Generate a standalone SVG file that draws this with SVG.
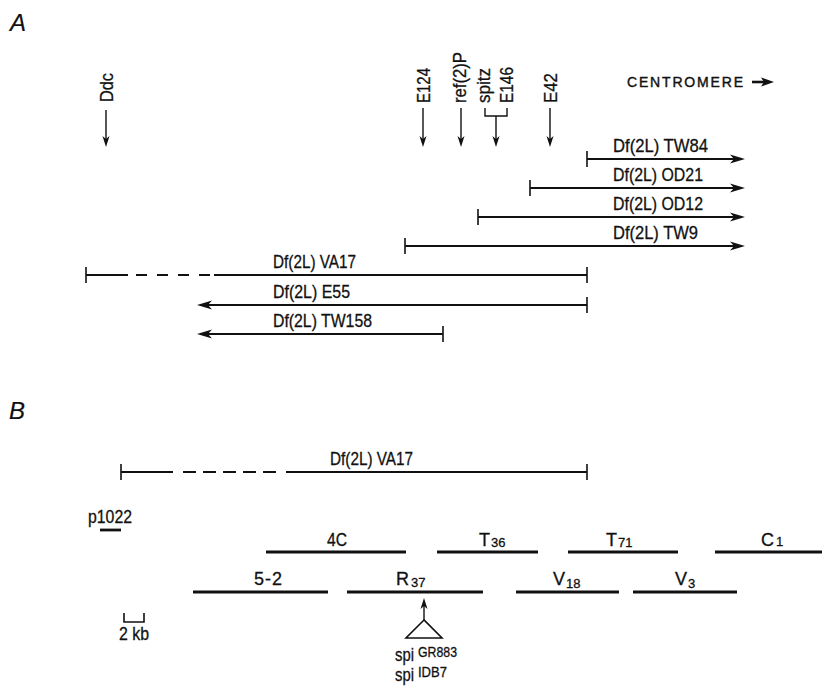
<svg xmlns="http://www.w3.org/2000/svg" width="830" height="690" viewBox="0 0 830 690">
<style>
text{font-family:"Liberation Sans",Arial,sans-serif;fill:#111;stroke:#111;stroke-width:0.3}
.lb{font-size:19px}
.sg{font-size:18px}
.sub{font-size:13px}
.sup{font-size:14px}
.panel{font-size:24px;font-style:italic;stroke-width:0.2}
.del{stroke:#111;stroke-width:2;fill:none}
.tk{stroke:#111;stroke-width:1.6;fill:none}
.seg{stroke:#111;stroke-width:2.8;fill:none}
.ptr{stroke:#111;stroke-width:1.4;fill:none}
</style>
<defs>
<marker id="ah" markerUnits="userSpaceOnUse" markerWidth="20" markerHeight="12" viewBox="-16 -6 20 12" refX="-7" refY="0" orient="auto"><path d="M0,0 L-15,-4.5 L-11,0 L-15,4.5 Z" fill="#111"/></marker>
<marker id="as" markerUnits="userSpaceOnUse" markerWidth="14" markerHeight="10" viewBox="-12 -5 14 10" refX="-6" refY="0" orient="auto"><path d="M0,0 L-11,-3.5 L-8,0 L-11,3.5 Z" fill="#111"/></marker>
</defs>

<text class="panel" x="10" y="31">A</text>
<text class="panel" x="9" y="419">B</text>

<!-- gene pointers in A -->
<g id="ddc">
<text class="lb" transform="translate(113,102) rotate(-90)" textLength="29" lengthAdjust="spacingAndGlyphs">Ddc</text>
</g>
<g id="e124">
<text class="lb" transform="translate(430,103) rotate(-90)" textLength="35" lengthAdjust="spacingAndGlyphs">E124</text>
</g>
<g id="ref2p">
<text class="lb" transform="translate(466,103) rotate(-90)" textLength="51" lengthAdjust="spacingAndGlyphs">ref(2)P</text>
</g>
<g id="spitz">
<text class="lb" transform="translate(490,103) rotate(-90)" textLength="35" lengthAdjust="spacingAndGlyphs">spitz</text>
</g>
<g id="e146">
<text class="lb" transform="translate(513,103) rotate(-90)" textLength="36" lengthAdjust="spacingAndGlyphs">E146</text>
</g>
<g id="e42">
<text class="lb" transform="translate(557,103) rotate(-90)" textLength="30" lengthAdjust="spacingAndGlyphs">E42</text>
</g>
<g id="centromere">
<text x="627" y="87" style="font-size:14px;stroke-width:0.4" textLength="116" lengthAdjust="spacing">CENTROMERE</text>
<line x1="752" y1="82" x2="765" y2="82" stroke="#111" stroke-width="2.6"/>
<path d="M774,82 L761,77.5 L764,82 L761,86.5 Z" fill="#111"/>
</g>

<!-- deletions in A -->
<g id="tw84">
<text class="lb" x="613" y="152" textLength="95" lengthAdjust="spacingAndGlyphs">Df(2L) TW84</text>
<line class="tk" x1="587" y1="151" x2="587" y2="167"/>
</g>
<g id="od21">
<text class="lb" x="613" y="181" textLength="90" lengthAdjust="spacingAndGlyphs">Df(2L) OD21</text>
<line class="tk" x1="530" y1="180" x2="530" y2="196"/>
</g>
<g id="od12">
<text class="lb" x="613" y="210" textLength="90" lengthAdjust="spacingAndGlyphs">Df(2L) OD12</text>
<line class="tk" x1="478" y1="209" x2="478" y2="225"/>
</g>
<g id="tw9">
<text class="lb" x="613" y="239" textLength="85" lengthAdjust="spacingAndGlyphs">Df(2L) TW9</text>
<line class="tk" x1="405" y1="238" x2="405" y2="254"/>
</g>
<g id="va17a">
<text class="lb" x="273" y="268" textLength="83" lengthAdjust="spacingAndGlyphs">Df(2L) VA17</text>
<line class="tk" x1="86" y1="267" x2="86" y2="283"/>
<line class="tk" x1="587" y1="267" x2="587" y2="283"/>
</g>
<g id="e55">
<text class="lb" x="273" y="298" textLength="77" lengthAdjust="spacingAndGlyphs">Df(2L) E55</text>
<line class="tk" x1="587" y1="297" x2="587" y2="313"/>
</g>
<g id="tw158">
<text class="lb" x="273" y="327" textLength="99" lengthAdjust="spacingAndGlyphs">Df(2L) TW158</text>
<line class="tk" x1="443" y1="326" x2="443" y2="342"/>
</g>

<!-- deletion in B -->
<g id="va17b">
<text class="lb" x="330" y="465" textLength="83" lengthAdjust="spacingAndGlyphs">Df(2L) VA17</text>
<line class="tk" x1="121" y1="464" x2="121" y2="480"/>
<line class="tk" x1="587" y1="464" x2="587" y2="480"/>
</g>

<!-- clones in B -->
<g id="p1022">
<text class="sg" x="88" y="523" textLength="44" lengthAdjust="spacingAndGlyphs">p1022</text>
<line class="seg" x1="100" y1="530" x2="121" y2="530"/>
</g>
<g id="c4C">
<text class="sg" x="327" y="546" textLength="20" lengthAdjust="spacingAndGlyphs">4C</text>
<line class="seg" x1="266" y1="552" x2="406" y2="552"/>
</g>
<g id="t36">
<text class="sg" x="479" y="546">T<tspan class="sub" dx="1" dy="1">36</tspan></text>
<line class="seg" x1="437" y1="552" x2="538" y2="552"/>
</g>
<g id="t71">
<text class="sg" x="606" y="546">T<tspan class="sub" dx="1" dy="1">71</tspan></text>
<line class="seg" x1="568" y1="552" x2="678" y2="552"/>
</g>
<g id="c1">
<text class="sg" x="761" y="546">C<tspan class="sub" dx="2" dy="0">1</tspan></text>
<line class="seg" x1="715" y1="552" x2="822" y2="552"/>
</g>
<g id="c52">
<text class="sg" x="254" y="585" textLength="28" lengthAdjust="spacing">5-2</text>
<line class="seg" x1="193" y1="592" x2="328" y2="592"/>
</g>
<g id="r37">
<text class="sg" x="396" y="585">R<tspan class="sub" dx="2" dy="2">37</tspan></text>
<line class="seg" x1="347" y1="592" x2="483" y2="592"/>
</g>
<g id="v18">
<text class="sg" x="553" y="585">V<tspan class="sub" dx="1" dy="3">18</tspan></text>
<line class="seg" x1="516" y1="592" x2="619" y2="592"/>
</g>
<g id="v3">
<text class="sg" x="675" y="585">V<tspan class="sub" dx="1" dy="3">3</tspan></text>
<line class="seg" x1="633" y1="592" x2="737" y2="592"/>
</g>

<g id="insertion">
<polygon points="424,620 406,638 442,638" fill="none" stroke="#111" stroke-width="1.6"/>
<text class="sg" x="395" y="661" textLength="19" lengthAdjust="spacingAndGlyphs">spi</text>
<text class="sup" x="418" y="657" textLength="39" lengthAdjust="spacingAndGlyphs">GR883</text>
<text class="sg" x="395" y="681" textLength="19" lengthAdjust="spacingAndGlyphs">spi</text>
<text class="sup" x="418" y="677" textLength="29" lengthAdjust="spacingAndGlyphs">IDB7</text>
</g>

<g id="scale">
<path d="M124,613 V622 H144 V613" class="tk"/>
<text style="font-size:18px" x="119" y="640" textLength="30" lengthAdjust="spacingAndGlyphs">2 kb</text>
</g>

<!-- connectors -->
<g id="connectors">
<line class="ptr" x1="106" y1="110" x2="106" y2="141" marker-end="url(#as)"/>
<line class="ptr" x1="423" y1="108" x2="423" y2="141" marker-end="url(#as)"/>
<line class="ptr" x1="461" y1="108" x2="461" y2="141" marker-end="url(#as)"/>
<path class="ptr" d="M485,108 V116 H507 V108"/>
<line class="ptr" x1="496" y1="116" x2="496" y2="141" marker-end="url(#as)"/>
<line class="ptr" x1="550" y1="108" x2="550" y2="141" marker-end="url(#as)"/>

<line class="del" x1="587" y1="159" x2="738" y2="159" marker-end="url(#ah)"/>
<line class="del" x1="530" y1="188" x2="738" y2="188" marker-end="url(#ah)"/>
<line class="del" x1="478" y1="217" x2="738" y2="217" marker-end="url(#ah)"/>
<line class="del" x1="405" y1="246" x2="738" y2="246" marker-end="url(#ah)"/>
<line class="del" x1="86" y1="275" x2="128" y2="275"/>
<line class="del" x1="136" y1="275" x2="212" y2="275" stroke-dasharray="11 10"/>
<line class="del" x1="214" y1="275" x2="587" y2="275"/>
<line class="del" x1="587" y1="305" x2="204" y2="305" marker-end="url(#ah)"/>
<line class="del" x1="443" y1="334" x2="204" y2="334" marker-end="url(#ah)"/>

<line class="del" x1="121" y1="472" x2="173" y2="472"/>
<line class="del" x1="183" y1="472" x2="278" y2="472" stroke-dasharray="13 7"/>
<line class="del" x1="286" y1="472" x2="587" y2="472"/>

<line class="ptr" x1="424" y1="620" x2="424" y2="604" marker-end="url(#as)"/>
</g>
</svg>
